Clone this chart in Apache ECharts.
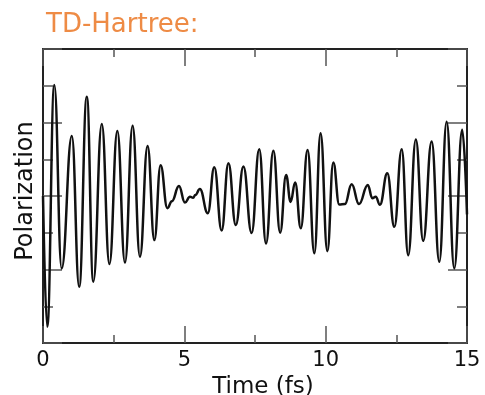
<!DOCTYPE html>
<html><head><meta charset="utf-8">
<script src="https://cdn.jsdelivr.net/npm/echarts@6/dist/echarts.min.js"></script>
<style>html,body{margin:0;padding:0;background:#fff}#c{width:485px;height:395px}</style>
</head><body><div id="c"></div>
<script>
const titleText = 'TD-Hartree:';
const xName = 'Time (fs)';
const yName = 'Polarization';
const xTickLabels = [0, 5, 10, 15];
const times = [0, 0.15, 0.40, 0.66, 1.02, 1.28, 1.55, 1.78, 2.08, 2.35, 2.63, 2.90, 3.17, 3.43, 3.70, 3.94, 4.16, 4.40, 4.56, 4.81, 5.02, 5.20, 5.31, 5.39, 5.55, 5.83, 6.06, 6.32, 6.56, 6.82, 7.09, 7.38, 7.65, 7.89, 8.15, 8.39, 8.60, 8.76, 8.92, 9.12, 9.36, 9.60, 9.82, 10.06, 10.27, 10.48, 10.68, 10.92, 11.18, 11.49, 11.65, 11.77, 11.92, 12.18, 12.43, 12.69, 12.92, 13.19, 13.45, 13.75, 14.02, 14.28, 14.55, 14.83, 15.0];
const polarization = [0, -3.56, 3.02, -1.97, 1.63, -2.47, 2.70, -2.33, 1.96, -1.85, 1.77, -1.81, 1.91, -1.65, 1.36, -1.20, 0.84, -0.33, -0.14, 0.27, -0.18, -0.02, -0.05, 0.03, 0.19, -0.47, 0.78, -0.94, 0.89, -0.79, 0.80, -1.01, 1.27, -1.29, 1.23, -1.00, 0.57, -0.16, 0.37, -0.88, 1.25, -1.56, 1.71, -1.50, 0.91, -0.23, -0.22, 0.32, -0.22, 0.30, -0.06, -0.02, -0.24, 0.62, -0.84, 1.27, -1.61, 1.54, -1.22, 1.48, -1.79, 2.02, -1.97, 1.80, -0.5];

const seriesData = times.map((t, i) => [t, polarization[i]]);
const font = 'DejaVu Sans';
const axisColor = '#222';
function xAxisCfg(pos, showLabel) {
  return {
    type: 'value', position: pos, min: 0, max: 15, interval: 5,
    axisLine: { show: true, onZero: false, lineStyle: { color: axisColor, width: 2 } },
    axisTick: { show: true, inside: true, length: 17, lineStyle: { color: '#555', width: 1.5 } },
    minorTick: { show: true, splitNumber: 2, length: 8, lineStyle: { color: '#555', width: 1.5 } },
    splitLine: { show: false }, minorSplitLine: { show: false },
    axisLabel: { show: showLabel, margin: 7, fontSize: 21, color: '#111', fontFamily: font,
      formatter: v => xTickLabels.includes(v) ? String(v) : '' },
    name: showLabel ? xName : '', nameLocation: 'middle', nameGap: 30,
    nameTextStyle: { fontSize: 23, color: '#111', fontFamily: font, padding: [0, 0, 0, 16] }
  };
}
function yAxisCfg(pos, showName) {
  return {
    type: 'value', position: pos, min: -4, max: 4, interval: 2,
    axisLine: { show: true, onZero: false, lineStyle: { color: axisColor, width: 2 } },
    axisTick: { show: true, inside: true, length: 19, lineStyle: { color: '#555', width: 1.5 } },
    minorTick: { show: true, splitNumber: 2, length: 10, lineStyle: { color: '#555', width: 1.5 } },
    splitLine: { show: false }, minorSplitLine: { show: false },
    axisLabel: { show: false },
    name: showName ? yName : '', nameLocation: 'middle', nameGap: 5, nameRotate: 90,
    nameTextStyle: { fontSize: 24, color: '#111', fontFamily: font, padding: [0, 0, 0, 10] }
  };
}
const chart = echarts.init(document.getElementById('c'), null, { renderer: 'canvas' });
chart.setOption({
  animation: false,
  backgroundColor: '#fff',
  title: { text: titleText, left: 46, top: 12, padding: 0,
    textStyle: { color: '#EE8B45', fontSize: 26, fontWeight: 'normal', fontFamily: font } },
  grid: { left: 43, right: 18, top: 49, bottom: 52, containLabel: false, outerBoundsMode: 'none' },
  xAxis: [xAxisCfg('bottom', true), xAxisCfg('top', false)],
  yAxis: [yAxisCfg('left', true), yAxisCfg('right', false)],
  series: [{
    type: 'line', data: seriesData, xAxisIndex: 0, yAxisIndex: 0,
    showSymbol: false, smooth: 0.45, smoothMonotone: 'x',
    lineStyle: { color: '#111', width: 2.5 }
  }]
});
</script>
</body></html>
